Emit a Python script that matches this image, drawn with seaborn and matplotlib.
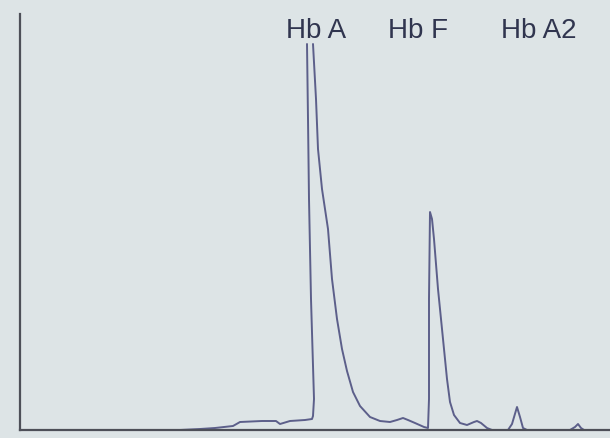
import numpy as np
import pandas as pd
import matplotlib
matplotlib.use("Agg")
import matplotlib.pyplot as plt
import seaborn as sns

# ---- data: densitometry trace (migration position vs signal) ----
# segment 0 = rising edge of Hb A, segment 1 = everything after the off-scale top
trace_x = [0, 80, 160, 180, 195, 213, 220, 242, 256, 260, 270, 285, 292, 293, 294, 291, 289, 288, 287,
           293, 296, 298, 302, 308, 312, 317, 322, 327, 333, 340, 350, 360, 370, 377, 383, 388, 395, 404,
           408, 409, 409, 410, 412, 414, 418, 423, 427, 430, 434, 440, 447, 454, 457, 461, 467, 472, 488,
           492, 497, 500, 503, 507, 550, 555, 558, 561, 564, 590]
trace_y = [0, 0, 0, 1, 2, 4, 8, 9, 9, 6, 9, 10, 11, 14, 31, 131, 231, 311, 386,
           386, 331, 281, 241, 201, 151, 111, 81, 59, 38, 24, 13, 9, 8, 10, 12, 10, 7, 3,
           2, 31, 131, 218, 211, 191, 141, 91, 51, 28, 15, 7, 5, 8, 9, 7, 2, 0, 0,
           6, 23, 13, 2, 0, 0, 3, 6, 2, 0, 0]
segment = [0] * 19 + [1] * (len(trace_x) - 19)

peak_labels = ["Hb A", "Hb F", "Hb A2"]
label_x = [296, 398, 519]

df = pd.DataFrame({"pos": trace_x, "signal": trace_y, "seg": segment})

bg = "#dde4e6"
sns.set_theme(style="white", rc={"axes.facecolor": bg, "figure.facecolor": bg})
plt.rcParams["font.family"] = ["Liberation Sans", "DejaVu Sans"]

fig = plt.figure(figsize=(6.10, 4.39), dpi=100)
ax = fig.add_axes([20 / 610, 8 / 439, 590 / 610, 416 / 439])

sns.lineplot(data=df, x="pos", y="signal", units="seg", estimator=None,
             color="#5c5f8a", linewidth=1.4, ax=ax, sort=False)

for lab, lx in zip(peak_labels, label_x):
    ax.text(lx, 393, lab, ha="center", va="baseline", fontsize=20, color="#30354f")

ax.set_xlim(0, 590)
ax.set_ylim(0, 416)
ax.set_xticks([])
ax.set_yticks([])
ax.set_xlabel("")
ax.set_ylabel("")
for side in ["top", "right"]:
    ax.spines[side].set_visible(False)
for side in ["left", "bottom"]:
    ax.spines[side].set_color("#4d4f58")
    ax.spines[side].set_linewidth(1.6)

plt.savefig("out.png", dpi=100, facecolor=bg)
